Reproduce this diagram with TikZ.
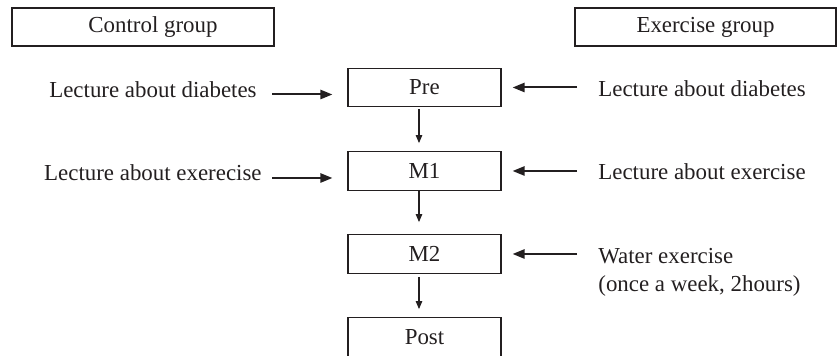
\documentclass[tikz,border=0pt]{standalone}
\usepackage{fontspec}
\setmainfont{Liberation Serif}
\usetikzlibrary{arrows.meta}
\definecolor{ink}{RGB}{35,31,32}
\tikzset{group/.style={draw=ink, text=ink, line width=0.6pt, minimum width=131pt, minimum height=19pt, inner sep=0pt},
  stage/.style={draw=ink, text=ink, line width=0.6pt, minimum width=76.5pt, minimum height=19.25pt, inner sep=0pt},
  lbl/.style={inner sep=0pt, text=ink},
  harr/.style={draw=ink, line width=1pt, -{Triangle[length=6pt,width=4.6pt]}},
  varr/.style={draw=ink, line width=0.6pt, -{Triangle[length=4pt,width=3.2pt]}}}

\begin{document}
\begin{tikzpicture}[x=0.5pt,y=-0.5pt,font=\fontsize{11.45pt}{14pt}\selectfont]
\useasboundingbox (0,0) rectangle (837,356);
\node[group] (ctrl) at (143,27) {\hspace*{10pt}Control group};
\node[group, minimum width=130.5pt] (exer) at (705.5,27) {Exercise group};

\node[stage] (pre) at (424.5,87.5) {Pre};
\node[stage] (m1) at (424.5,171) {M1};
\node[stage] (m2) at (424.5,254) {M2};
\node[stage] (post) at (424.5,337) {Post};

\node[lbl, anchor=east] (ldia) at (257,89.5) {Lecture about diabetes};
\node[lbl, anchor=east] (lexe) at (262,172.5) {Lecture about exerecise};
\node[lbl, anchor=west] (rdia) at (598,89) {Lecture about diabetes};
\node[lbl, anchor=west] (rexe) at (598,172) {Lecture about exercise};
\node[lbl, anchor=north west, align=left] (water) at (598,248) {Water exercise\\(once a week, 2hours)};

% control side
\draw[harr, shorten <=7.5pt, shorten >=7.5pt] ([yshift=-3.5pt]pre.west -| ldia.east) -- ([yshift=-3.5pt]pre.west);
\draw[harr, shorten <=5pt, shorten >=7.5pt] ([yshift=-3.5pt]m1.west -| lexe.east) -- ([yshift=-3.5pt]m1.west);

% exercise side
\draw[harr, shorten <=10.5pt, shorten >=5.5pt] (pre.east -| rdia.west) -- (pre.east);
\draw[harr, shorten <=10.5pt, shorten >=5.5pt] (m1.east -| rexe.west) -- (m1.east);
\draw[harr, shorten <=10.5pt, shorten >=5.5pt] (m2.east -| water.west) -- (m2.east);

% time line
\draw[varr, shorten <=1pt, shorten >=4pt] ([xshift=-2.75pt]pre.south) -- ([xshift=-2.75pt]m1.north);
\draw[varr, shorten >=6pt] ([xshift=-2.75pt]m1.south) -- ([xshift=-2.75pt]m2.north);
\draw[varr, shorten <=1.5pt, shorten >=4pt] ([xshift=-2.75pt]m2.south) -- ([xshift=-2.75pt]post.north);
\end{tikzpicture}
\end{document}
